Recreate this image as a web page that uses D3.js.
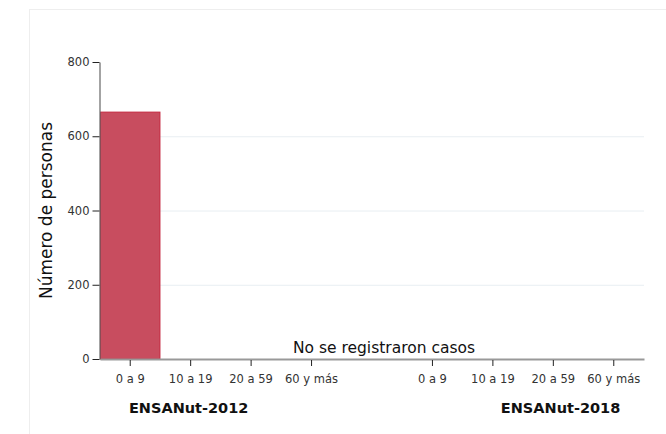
<!DOCTYPE html>
<html>
<head>
<meta charset="utf-8">
<script src="https://cdn.jsdelivr.net/npm/d3@7"></script>
<style>
  body { margin: 0; background: #fff; }
  text { font-family: "DejaVu Sans", "Noto Sans", sans-serif; }
</style>
</head>
<body>
<div id="chart"></div>
<script>
// datos
const encuestas = ["ENSANut-2012", "ENSANut-2018"];
const gruposEdad = ["0 a 9", "10 a 19", "20 a 59", "60 y más"];
const valores2012 = [665, 0, 0, 0];
const valores2018 = [0, 0, 0, 0];
const yTicks = [0, 200, 400, 600, 800];
const notaTexto = "No se registraron casos";

const width = 666;
const height = 434;
const marginTop = 62;
const marginRight = 22;
const marginBottom = 75;
const marginLeft = 100;

// una sola escala de bandas con un hueco entre encuestas
const claves = [];
encuestas.forEach((e, i) => {
    if (i > 0) claves.push("hueco");
    gruposEdad.forEach(g => claves.push(e + "|" + g));
});

const datos = [];
gruposEdad.forEach((g, i) => datos.push({ clave: encuestas[0] + "|" + g, valor: valores2012[i] }));
gruposEdad.forEach((g, i) => datos.push({ clave: encuestas[1] + "|" + g, valor: valores2018[i] }));

const x = d3.scaleBand().domain(claves).range([marginLeft, width - marginRight]).padding(0);
const y = d3.scaleLinear().domain([0, 800]).range([height - marginBottom, marginTop]);

const svg = d3.select("#chart").append("svg")
    .attr("width", width)
    .attr("height", height);

// marco del panel
svg.append("rect")
    .attr("x", 29.5).attr("y", 9.5)
    .attr("width", width).attr("height", height)
    .attr("fill", "none")
    .attr("stroke", "#eeeeee");

// líneas de cuadrícula
svg.append("g")
    .selectAll("line")
    .data(yTicks.filter(d => d > 0 && d < 800))
    .join("line")
    .attr("x1", marginLeft).attr("x2", width - marginRight)
    .attr("y1", d => y(d) + 0.5).attr("y2", d => y(d) + 0.5)
    .attr("stroke", "#e8eef2");

// barras
svg.append("g")
    .selectAll("rect")
    .data(datos.filter(d => d.valor > 0))
    .join("rect")
    .attr("x", d => x(d.clave) + 0.5)
    .attr("y", d => y(d.valor))
    .attr("width", x.bandwidth() - 1)
    .attr("height", d => y(0) - y(d.valor))
    .attr("fill", "#c84d5f")
    .attr("stroke", "#c4263e")
    .attr("stroke-width", 1);

// eje X
const ejeX = svg.append("g")
    .attr("transform", `translate(0,${y(0)})`)
    .call(d3.axisBottom(x).tickSize(6).tickSizeOuter(0)
        .tickValues(claves.filter(c => c !== "hueco"))
        .tickFormat(c => c.split("|")[1]));
ejeX.select(".domain").attr("stroke", "#999").attr("stroke-width", 2);
ejeX.selectAll(".tick line").attr("stroke", "#222").attr("transform", "translate(0,1)");
ejeX.selectAll(".tick text")
    .attr("dy", "1.3em")
    .attr("font-size", 11.5)
    .attr("fill", "#333");

// eje Y
const ejeY = svg.append("g")
    .attr("transform", `translate(${marginLeft - 0.5},0)`)
    .call(d3.axisLeft(y).tickValues(yTicks).tickSize(7).tickSizeOuter(0));
ejeY.select(".domain").attr("stroke", "#666").attr("stroke-width", 1.2);
ejeY.selectAll(".tick line").attr("stroke", "#222");
ejeY.selectAll(".tick text")
    .attr("font-size", 11.5)
    .attr("fill", "#333");

// título eje Y
svg.append("text")
    .attr("transform", `translate(52,${(y(0) + y(800)) / 2}) rotate(-90)`)
    .attr("text-anchor", "middle")
    .attr("font-size", 17)
    .attr("fill", "#111")
    .text("Número de personas");

// etiquetas de las encuestas
const etiquetasX = [
    x(encuestas[0] + "|" + gruposEdad[1]) + x.bandwidth() / 2 - 2,
    x(encuestas[1] + "|" + gruposEdad[3]) - 23
];
svg.append("g")
    .selectAll("text")
    .data(encuestas)
    .join("text")
    .attr("x", (d, i) => etiquetasX[i])
    .attr("y", height - 21)
    .attr("text-anchor", "middle")
    .attr("font-size", 14.5)
    .attr("font-weight", "bold")
    .attr("fill", "#111")
    .text(d => d);

// nota
svg.append("text")
    .attr("x", x("hueco") + x.bandwidth() / 2 + 12)
    .attr("y", y(0) - 6)
    .attr("text-anchor", "middle")
    .attr("font-size", 15.5)
    .attr("fill", "#111")
    .text(notaTexto);
</script>
</body>
</html>
